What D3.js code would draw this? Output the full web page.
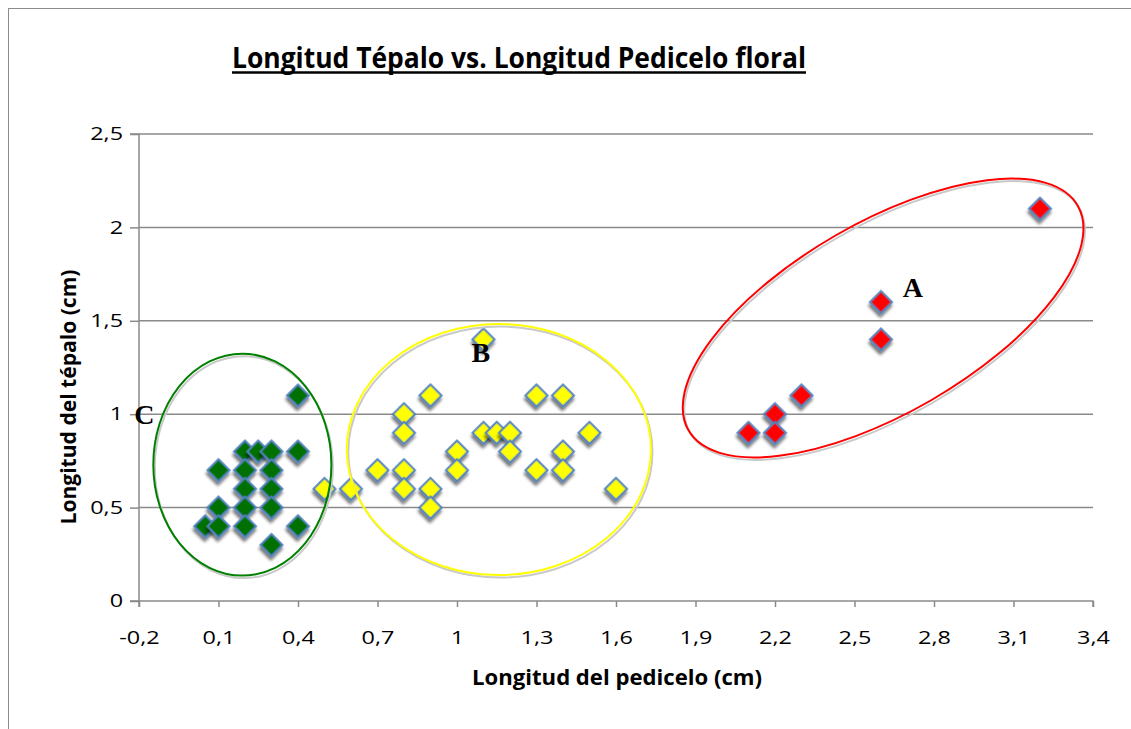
<!DOCTYPE html>
<html>
<head>
<meta charset="utf-8">
<script src="https://cdn.jsdelivr.net/npm/d3@7"></script>
<style>
  body { margin: 0; background: #fff; }
  svg { display: block; }
  .tick text { font-family: "Open Sans", sans-serif; font-size: 18px; fill: #000; }
</style>
</head>
<body>
<svg id="chart" width="1131" height="729"></svg>
<script>
// grupo C (verde)
const greenX = [0.4, 0.2, 0.25, 0.3, 0.4, 0.1, 0.2, 0.3, 0.2, 0.3, 0.1, 0.2, 0.3, 0.05, 0.1, 0.2, 0.4, 0.3];
const greenY = [1.1, 0.8, 0.8, 0.8, 0.8, 0.7, 0.7, 0.7, 0.6, 0.6, 0.5, 0.5, 0.5, 0.4, 0.4, 0.4, 0.4, 0.3];
// grupo B (amarillo)
const yellowX = [0.5, 0.6, 0.7, 0.8, 0.8, 0.8, 0.8, 0.9, 0.9, 0.9, 1.0, 1.0, 1.1, 1.1, 1.15, 1.2, 1.2, 1.3, 1.3, 1.4, 1.4, 1.4, 1.5, 1.6];
const yellowY = [0.6, 0.6, 0.7, 1.0, 0.9, 0.7, 0.6, 1.1, 0.6, 0.5, 0.8, 0.7, 1.4, 0.9, 0.9, 0.9, 0.8, 1.1, 0.7, 1.1, 0.8, 0.7, 0.9, 0.6];
// grupo A (rojo)
const redX = [3.2, 2.6, 2.6, 2.3, 2.2, 2.2, 2.1];
const redY = [2.1, 1.6, 1.4, 1.1, 1.0, 0.9, 0.9];

const xTicks = [-0.2, 0.1, 0.4, 0.7, 1.0, 1.3, 1.6, 1.9, 2.2, 2.5, 2.8, 3.1, 3.4];
const yTicks = [0, 0.5, 1, 1.5, 2, 2.5];

// elipses de agrupamiento (centro y semiejes en unidades de datos)
const groupNames = ["C", "B", "A"];
const ellipseCx = [0.19, 1.158, 2.608];
const ellipseCy = [0.73, 0.811, 1.515];
const ellipseRx = [0.336, 0.574, 0.848];
const ellipseRy = [0.594, 0.672, 0.51];
const ellipseAngle = [0, 0, -30];
const labelX = [-0.18, 1.09, 2.72];
const labelY = [1.0, 1.33, 1.68];

const fmt = v => String(+v.toFixed(1)).replace(".", ",");

const svg = d3.select("#chart");
const margin = { left: 139, right: 1093, top: 134, bottom: 601 };

const x = d3.scaleLinear().domain([-0.2, 3.4]).range([margin.left, margin.right]);
const y = d3.scaleLinear().domain([0, 2.5]).range([margin.bottom, margin.top]);

const defs = svg.append("defs");
const shadow = defs.append("filter").attr("id", "shadow")
  .attr("x", "-50%").attr("y", "-50%").attr("width", "200%").attr("height", "200%");
shadow.append("feDropShadow")
  .attr("dx", 2).attr("dy", 3).attr("stdDeviation", 1.6)
  .attr("flood-color", "#000").attr("flood-opacity", 0.55);

// marco del gráfico
svg.append("rect")
  .attr("x", 8.5).attr("y", 8.5).attr("width", 1200).attr("height", 800)
  .attr("fill", "none").attr("stroke", "#8c8c8c").attr("stroke-width", 1);

// grilla horizontal
svg.append("g")
  .selectAll("line")
  .data(yTicks.slice(1))
  .enter()
  .append("line")
  .attr("x1", x(-0.2)).attr("x2", x(3.4))
  .attr("y1", d => y(d)).attr("y2", d => y(d))
  .attr("stroke", "#8a8a8a").attr("stroke-width", 1.5);

const yAxis = d3.axisLeft(y).tickValues(yTicks).tickFormat(fmt).tickSize(9).tickPadding(7);
const gy = svg.append("g").attr("transform", `translate(${margin.left}, 0)`).call(yAxis);

const xAxis = d3.axisBottom(x).tickValues(xTicks).tickFormat(fmt).tickSize(6).tickPadding(24);
const gx = svg.append("g").attr("transform", `translate(0, ${margin.bottom})`).call(xAxis);

[gx, gy].forEach(g => {
  g.selectAll(".domain, .tick line").attr("stroke", "#8a8a8a").attr("stroke-width", 1.5);
  // the original labels are a wide, stretched Calibri
  g.selectAll(".tick text").each(function () {
    const len = this.getComputedTextLength();
    d3.select(this).attr("textLength", len * 1.3).attr("lengthAdjust", "spacingAndGlyphs");
  });
});
gx.select(".domain").attr("d", `M${x(-0.2)},6V0H${x(3.4)}V6`);
gy.select(".domain").attr("d", `M-9,${y(2.5)}H0V${y(0)}H-9`);

const series = [
  { xs: greenX, ys: greenY, fill: "#006f00" },
  { xs: yellowX, ys: yellowY, fill: "#ffff00" },
  { xs: redX, ys: redY, fill: "#ff0000" }
];

const diamond = d3.symbol(d3.symbolSquare, 240);

series.forEach(s => {
  svg.append("g")
    .selectAll("path")
    .data(s.xs.map((v, i) => [v, s.ys[i]]))
    .enter()
    .append("path")
    .attr("d", diamond)
    .attr("transform", d => `translate(${x(d[0])}, ${y(d[1])}) rotate(45)`)
    .attr("fill", s.fill)
    .attr("stroke", "#4f81bd")
    .attr("stroke-width", 2)
    .attr("filter", "url(#shadow)");
});

// elipses
const ellipseColors = ["#008000", "#ffff00", "#ff0000"];
groupNames.forEach((g, i) => {
  const cx = x(ellipseCx[i]);
  const cy = y(ellipseCy[i]);
  const rx = x(ellipseRx[i]) - x(0);
  const ry = y(0) - y(ellipseRy[i]);
  svg.append("ellipse")
    .attr("transform", `translate(${cx + 1.5}, ${cy + 2.5}) rotate(${ellipseAngle[i]})`)
    .attr("rx", rx).attr("ry", ry)
    .attr("fill", "none").attr("stroke", "#c9c9c9").attr("stroke-width", 2);
  svg.append("ellipse")
    .attr("transform", `translate(${cx}, ${cy}) rotate(${ellipseAngle[i]})`)
    .attr("rx", rx).attr("ry", ry)
    .attr("fill", "none").attr("stroke", ellipseColors[i]).attr("stroke-width", 2);
  svg.append("text")
    .attr("x", x(labelX[i]))
    .attr("y", y(labelY[i]))
    .attr("dy", "0.35em")
    .attr("text-anchor", "middle")
    .attr("font-family", "'Liberation Serif', 'DejaVu Serif', serif")
    .attr("font-weight", "bold")
    .attr("font-size", 28)
    .text(g);
});

// títulos
svg.append("text")
  .attr("x", 232).attr("y", 68)
  .attr("font-family", "'Open Sans', sans-serif")
  .attr("font-weight", "bold")
  .attr("font-size", 28.5)
  .attr("textLength", 574)
  .attr("lengthAdjust", "spacingAndGlyphs")
  .text("Longitud Tépalo vs. Longitud Pedicelo floral");

svg.append("line")
  .attr("x1", 232).attr("x2", 806)
  .attr("y1", 72.5).attr("y2", 72.5)
  .attr("stroke", "#000").attr("stroke-width", 2.5);

svg.append("text")
  .attr("x", 617).attr("y", 685)
  .attr("text-anchor", "middle")
  .attr("font-family", "'Open Sans', sans-serif")
  .attr("font-weight", "bold")
  .attr("font-size", 21)
  .attr("textLength", 290)
  .attr("lengthAdjust", "spacingAndGlyphs")
  .text("Longitud del pedicelo (cm)");

svg.append("text")
  .attr("transform", `translate(76, 397) rotate(-90)`)
  .attr("text-anchor", "middle")
  .attr("font-family", "'Open Sans', sans-serif")
  .attr("font-weight", "bold")
  .attr("font-size", 21)
  .attr("textLength", 255)
  .attr("lengthAdjust", "spacingAndGlyphs")
  .text("Longitud del tépalo (cm)");
</script>
</body>
</html>
